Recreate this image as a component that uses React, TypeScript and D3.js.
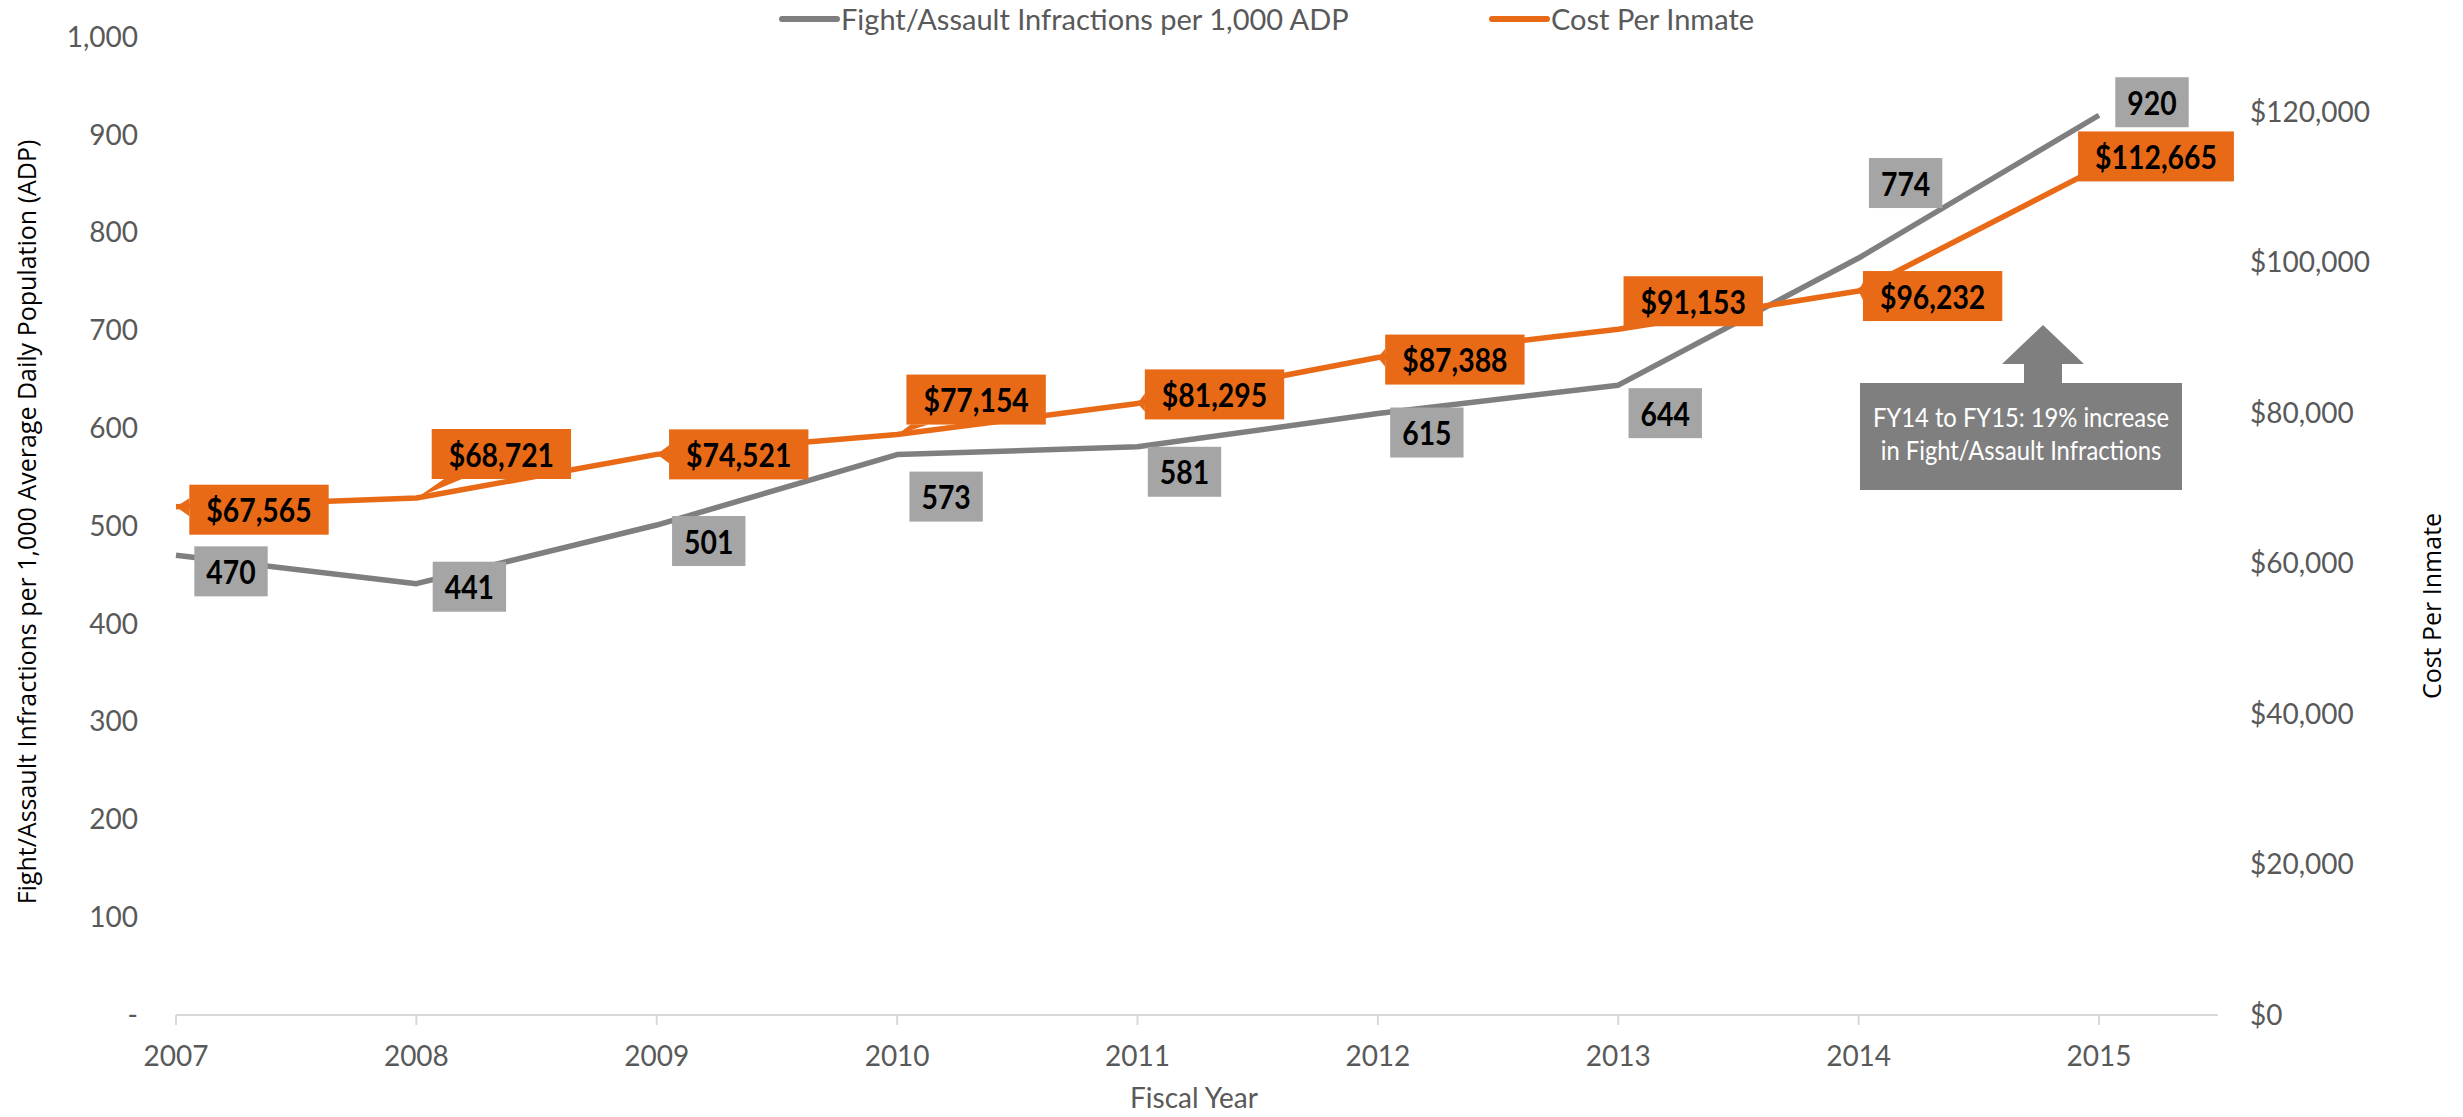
import React, { useRef, useEffect } from 'react';
import * as d3 from 'd3';

const years = [2007, 2008, 2009, 2010, 2011, 2012, 2013, 2014, 2015];
const infractions = [470, 441, 501, 573, 581, 615, 644, 774, 920];
const costPerInmate = [67565, 68721, 74521, 77154, 81295, 87388, 91153, 96232, 112665];

const leftTicks = [0, 100, 200, 300, 400, 500, 600, 700, 800, 900, 1000];
const rightTicks = [0, 20000, 40000, 60000, 80000, 100000, 120000];

const seriesNames = ['Fight/Assault Infractions per 1,000 ADP', 'Cost Per Inmate'];
const noteLines = ['FY14 to FY15: 19% increase', 'in Fight/Assault Infractions'];

// where each callout sits, in px from its point (the chart placed them by hand)
const infractionShift = [[55, 16], [53, 3], [52, 16], [49, 42], [47, 25], [49, 19], [47, 28], [47, -75], [53, -13]];
const costShift = [[83, 3], [85, -44], [82, 0], [79, -35], [77, -9], [77, 2], [75, -28], [74, 5], [57, -11]];

const GRAY = '#7f7f7f';
const ORANGE = '#e96a16';
const GRAY_BOX = '#a5a5a5';
const TEXT = '#595959';
const FONT = 'Lato, "Open Sans", sans-serif';

const App: React.FC = () => {
  const svgRef = useRef<SVGSVGElement | null>(null);

  useEffect(() => {
    const width = 2463;
    const height = 1117;
    const svg = d3.select(svgRef.current);
    svg.selectAll('*').remove();

    const x = d3.scaleLinear().domain([2007, 2015]).range([176, 2099]);
    const yLeft = d3.scaleLinear().domain([0, 1000]).range([1015, 37]);
    const yRight = d3.scaleLinear().domain([0, 130000]).range([1015, 37]);
    const axisEnd = 2218;

    svg.append('rect').attr('width', width).attr('height', height).attr('fill', '#fff');

    // x axis
    svg.append('line')
      .attr('x1', x(2007)).attr('x2', axisEnd)
      .attr('y1', 1015).attr('y2', 1015)
      .attr('stroke', '#d9d9d9').attr('stroke-width', 2);
    svg.append('g').selectAll('line').data(years).enter().append('line')
      .attr('x1', d => x(d)).attr('x2', d => x(d))
      .attr('y1', 1015).attr('y2', 1025)
      .attr('stroke', '#d9d9d9').attr('stroke-width', 2);
    svg.append('g').selectAll('text').data(years).enter().append('text')
      .attr('x', d => x(d)).attr('y', 1066)
      .attr('text-anchor', 'middle')
      .attr('font-family', FONT).attr('font-size', 28).attr('fill', TEXT)
      .text(d => String(d));

    // left axis labels
    svg.append('g').selectAll('text').data(leftTicks).enter().append('text')
      .attr('x', 138).attr('y', d => yLeft(d)).attr('dy', '0.35em')
      .attr('text-anchor', 'end')
      .attr('font-family', FONT).attr('font-size', 28).attr('fill', TEXT)
      .text(d => d === 0 ? '-' : d3.format(',')(d));

    // right axis labels
    svg.append('g').selectAll('text').data(rightTicks).enter().append('text')
      .attr('x', 2250).attr('y', d => yRight(d)).attr('dy', '0.35em')
      .attr('font-family', FONT).attr('font-size', 28).attr('fill', TEXT)
      .text(d => '$' + d3.format(',')(d));

    // axis titles
    svg.append('text')
      .attr('transform', 'translate(27,522) rotate(-90)')
      .attr('text-anchor', 'middle').attr('dy', '0.35em')
      .attr('font-family', '"Open Sans", sans-serif').attr('font-size', 25).attr('fill', '#000')
      .text('Fight/Assault Infractions per 1,000 Average Daily Population (ADP)');
    svg.append('text')
      .attr('transform', 'translate(2432,606) rotate(-90)')
      .attr('text-anchor', 'middle').attr('dy', '0.35em')
      .attr('font-family', '"Open Sans", sans-serif').attr('font-size', 25).attr('fill', '#000')
      .text('Cost Per Inmate');
    svg.append('text')
      .attr('x', 1194).attr('y', 1098).attr('dy', '0.35em')
      .attr('text-anchor', 'middle')
      .attr('font-family', FONT).attr('font-size', 28).attr('fill', TEXT)
      .text('Fiscal Year');

    // legend
    const legendX = [782, 1492];
    const legendColors = [GRAY, ORANGE];
    seriesNames.forEach((name, i) => {
      svg.append('line')
        .attr('x1', legendX[i]).attr('x2', legendX[i] + 55)
        .attr('y1', 19).attr('y2', 19)
        .attr('stroke', legendColors[i]).attr('stroke-width', 6).attr('stroke-linecap', 'round');
      svg.append('text')
        .attr('x', legendX[i] + 59).attr('y', 20).attr('dy', '0.35em')
        .attr('font-family', FONT).attr('font-size', 29).attr('fill', TEXT)
        .text(name);
    });

    // lines
    const grayLine = d3.line<number>().x((_, i) => x(years[i])).y(d => yLeft(d));
    const orangeLine = d3.line<number>().x((_, i) => x(years[i])).y(d => yRight(d));
    svg.append('path').datum(infractions)
      .attr('d', grayLine).attr('fill', 'none')
      .attr('stroke', GRAY).attr('stroke-width', 5.5).attr('stroke-linejoin', 'round');
    svg.append('path').datum(costPerInmate)
      .attr('d', orangeLine).attr('fill', 'none')
      .attr('stroke', ORANGE).attr('stroke-width', 5.5).attr('stroke-linejoin', 'round');

    // callouts (narrowed bold text stands in for Calibri)
    const squeeze = 0.86;
    const callout = (px: number, py: number, shift: number[], label: string, fill: string, pad: number, wedge: boolean) => {
      const g = svg.append('g');
      const cx = px + shift[0];
      const cy = py + shift[1];
      const t = g.append('text')
        .attr('transform', `translate(${cx},${cy + 1}) scale(${squeeze},1)`)
        .attr('font-family', FONT).attr('font-size', 33).attr('font-weight', 700)
        .attr('fill', '#000').attr('text-anchor', 'middle').attr('dy', '0.35em')
        .text(label);
      const tw = (t.node() as SVGTextElement).getComputedTextLength() * squeeze;
      const w = tw + pad;
      const h = 50;
      const l = cx - w / 2, r = cx + w / 2, top = cy - h / 2, b = cy + h / 2;
      const dx = px - cx, dy = py - cy;
      const inside = px > l && px < r && py > top && py < b;
      if (wedge && !inside) {
        let tri: [number, number][];
        if (Math.abs(dx) / (w / 2) > Math.abs(dy) / (h / 2)) {
          const ex = dx < 0 ? l : r;
          const ey = Math.max(top + 10, Math.min(b - 10, cy + dy * (w / 2) / Math.abs(dx)));
          tri = [[ex, ey - 9], [ex, ey + 9], [px, py]];
        } else {
          const ey = dy < 0 ? top : b;
          const ex = Math.max(l + 10, Math.min(r - 10, cx + dx * (h / 2) / Math.abs(dy)));
          tri = [[ex - 9, ey], [ex + 9, ey], [px, py]];
        }
        g.insert('path', 'text').attr('d', 'M' + tri.map(p => p.join(',')).join('L') + 'Z').attr('fill', fill);
      }
      g.insert('rect', 'text')
        .attr('x', l).attr('y', top).attr('width', w).attr('height', h)
        .attr('fill', fill);
    };

    infractions.forEach((v, i) => {
      callout(x(years[i]), yLeft(v), infractionShift[i], String(v), GRAY_BOX, 24, false);
    });
    costPerInmate.forEach((v, i) => {
      callout(x(years[i]), yRight(v), costShift[i], '$' + d3.format(',')(v), ORANGE, 34, true);
    });

    // note with arrow
    const boxL = 1860, boxR = 2182, boxT = 383, boxB = 490;
    const ax = 2043;
    svg.append('path')
      .attr('d', `M${ax},325 L${ax + 41},364 L${ax + 19},364 L${ax + 19},${boxT} L${ax - 19},${boxT} L${ax - 19},364 L${ax - 41},364 Z`)
      .attr('fill', GRAY);
    svg.append('rect')
      .attr('x', boxL).attr('y', boxT).attr('width', boxR - boxL).attr('height', boxB - boxT)
      .attr('fill', GRAY);
    noteLines.forEach((line, i) => {
      svg.append('text')
        .attr('transform', `translate(${(boxL + boxR) / 2},${427 + i * 33}) scale(0.88,1)`)
        .attr('text-anchor', 'middle')
        .attr('font-family', FONT).attr('font-size', 27).attr('fill', '#fff')
        .text(line);
    });
  }, []);

  return (
    <svg ref={svgRef} width={2463} height={1117}
      style={{ position: 'absolute', left: 0, top: 0, display: 'block' }} />
  );
};

export default App;
